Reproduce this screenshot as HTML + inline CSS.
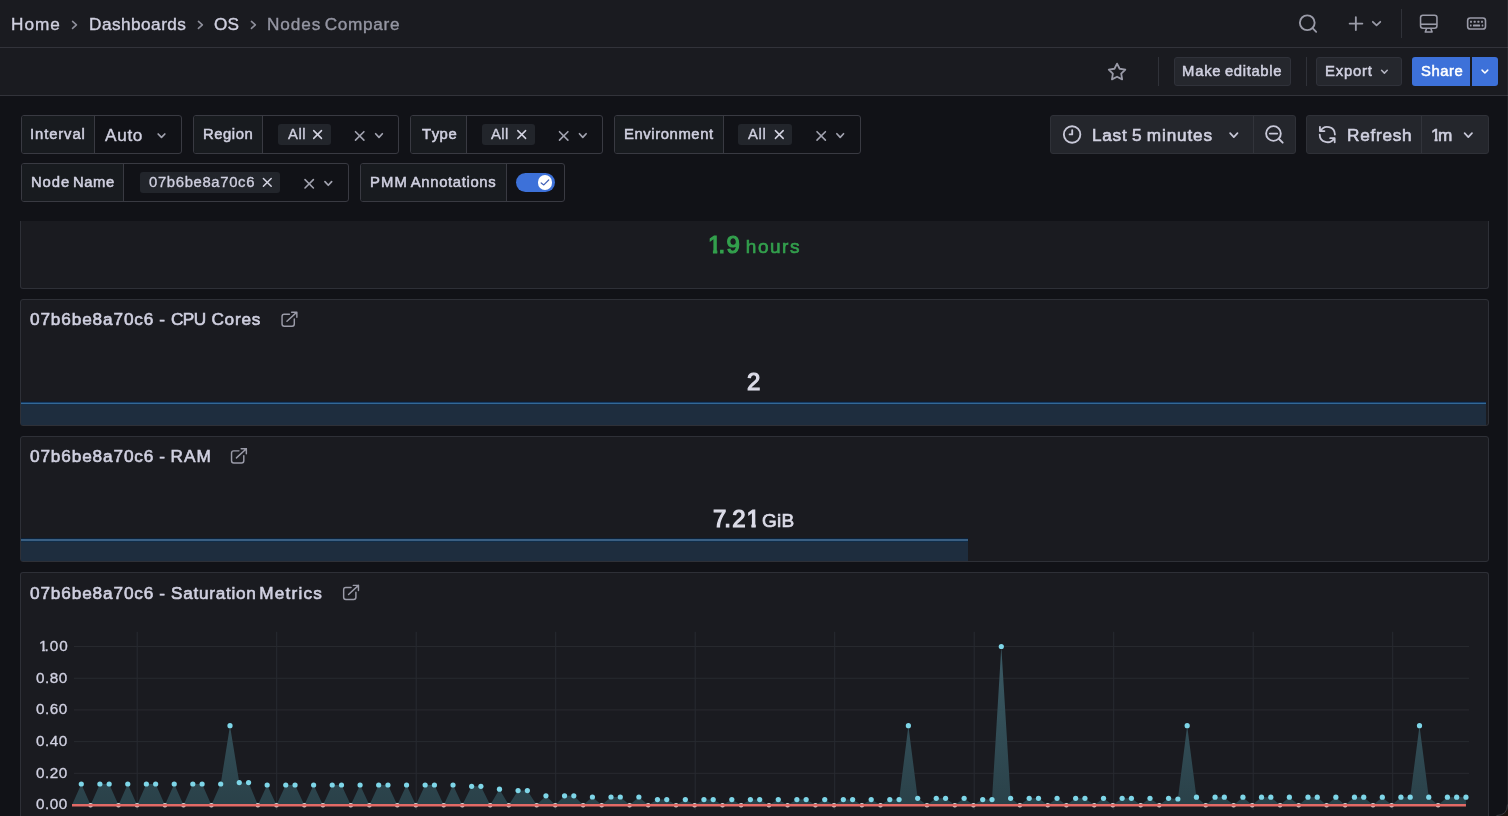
<!DOCTYPE html>
<html lang="en"><head><meta charset="utf-8"><title>Nodes Compare - OS - Dashboards - Grafana</title>
<style>
html,body{margin:0;padding:0;background:#111217;}
html{width:1508px;height:816px;overflow:hidden;}
body{width:1508px;height:816px;overflow:hidden;position:relative;font-family:"Liberation Sans", Arial, sans-serif;}
.a{position:absolute;box-sizing:border-box;}
.ic{position:absolute;left:0;top:0;overflow:visible;}
.t{position:absolute;white-space:pre;font-kerning:none;will-change:transform;}
.g{position:absolute;font-size:0;line-height:0;white-space:pre;will-change:transform;}
.w{display:inline-block;vertical-align:top;white-space:pre;font-kerning:none;}
.box{position:absolute;box-sizing:border-box;border:1px solid #393a42;border-radius:3px;background:#111217;}
.lab{position:absolute;box-sizing:border-box;top:0;left:0;bottom:0;background:#181b1f;border-right:1px solid #393a42;border-radius:2px 0 0 2px;}
.pill{position:absolute;box-sizing:border-box;background:#22252b;border-radius:3px;}
.panel{position:absolute;box-sizing:border-box;background:#1a1b20;border:1px solid #2e3037;border-radius:3px;overflow:hidden;}
.btn{position:absolute;box-sizing:border-box;border-radius:3px;}
.sep{position:absolute;width:1px;}
</style></head><body>
<header>
<div class="a" style="left:0;top:0;width:1508px;height:96px;background:#1a1b20"></div>
<div class="a" style="left:0;top:47px;width:1508px;height:1px;background:#32333a"></div>
<nav aria-label="Breadcrumbs">
<span class="t" style="left:11.29px;top:14px;font-size:17.20px;line-height:20px;color:#d0d0e0;-webkit-text-stroke:0.38px #d0d0e0;letter-spacing:0.964px;">Home</span><svg class="ic" width="1" height="1" aria-hidden="true"><path d="M72.55 21.45 L76.45 24.90 L72.55 28.35" fill="none" stroke="#8e8f9b" stroke-width="1.60" stroke-linecap="round" stroke-linejoin="round"/></svg>
<span class="t" style="left:88.59px;top:14px;font-size:17.20px;line-height:20px;color:#d0d0e0;-webkit-text-stroke:0.38px #d0d0e0;letter-spacing:0.476px;">Dashboards</span><svg class="ic" width="1" height="1" aria-hidden="true"><path d="M198.45 21.45 L202.35 24.90 L198.45 28.35" fill="none" stroke="#8e8f9b" stroke-width="1.60" stroke-linecap="round" stroke-linejoin="round"/></svg>
<span class="t" style="left:214.19px;top:14px;font-size:17.20px;line-height:20px;color:#d0d0e0;-webkit-text-stroke:0.38px #d0d0e0;letter-spacing:0.252px;">OS</span><svg class="ic" width="1" height="1" aria-hidden="true"><path d="M251.45 21.45 L255.35 24.90 L251.45 28.35" fill="none" stroke="#8e8f9b" stroke-width="1.60" stroke-linecap="round" stroke-linejoin="round"/></svg>
<span class="g" style="left:267.04px;top:14px"><span class="w" style="width:54.17px;height:20px;font-size:17.20px;line-height:20px;color:#9596a3;-webkit-text-stroke:0.38px #9596a3;letter-spacing:0.890px;">Nodes</span> <span class="w" style="width:75.46px;height:20px;margin-left:3.56px;font-size:17.20px;line-height:20px;color:#9596a3;-webkit-text-stroke:0.38px #9596a3;letter-spacing:0.674px;">Compare</span></span>
</nav>
<div class="topnav-actions">
<svg class="ic" width="1" height="1" aria-hidden="true"><circle cx="1307.25" cy="22.75" r="7.4" fill="none" stroke="#9a9ba8" stroke-width="1.85"/><path d="M1312.6 28.2 L1316.2 31.85" stroke="#9a9ba8" stroke-width="1.8" stroke-linecap="round"/></svg>
<svg class="ic" width="1" height="1" aria-hidden="true"><path d="M1349.65 23.6 H1362.35 M1355.85 17.25 V29.95" stroke="#9a9ba8" stroke-width="1.85" stroke-linecap="round"/><path d="M1372.80 21.80 L1376.55 25.30 L1380.30 21.80" fill="none" stroke="#9a9ba8" stroke-width="1.75" stroke-linecap="round" stroke-linejoin="round"/></svg>
<div class="sep" style="left:1401.2px;top:9.4px;height:28.4px;background:#303239"></div>
<svg class="ic" width="1" height="1" aria-hidden="true"><rect x="1420.55" y="15.15" width="16.4" height="13.1" rx="2.4" fill="none" stroke="#9a9ba8" stroke-width="1.55"/><path d="M1420.6 24.25 H1436.9" stroke="#9a9ba8" stroke-width="1.6"/><path d="M1426.4 29.0 L1425.3 31.95 H1432.1 L1431.0 29.0" fill="none" stroke="#9a9ba8" stroke-width="1.6" stroke-linejoin="round" stroke-linecap="round"/></svg>
<svg class="ic" width="1" height="1" aria-hidden="true"><rect x="1467.65" y="18.0" width="17.85" height="11.05" rx="2.6" fill="none" stroke="#9a9ba8" stroke-width="1.6"/><rect x="1470.05" y="20.85" width="1.9" height="1.9" rx="0.3" fill="#9a9ba8"/><rect x="1473.75" y="20.85" width="1.9" height="1.9" rx="0.3" fill="#9a9ba8"/><rect x="1477.45" y="20.85" width="1.9" height="1.9" rx="0.3" fill="#9a9ba8"/><rect x="1481.05" y="20.85" width="1.9" height="1.9" rx="0.3" fill="#9a9ba8"/><rect x="1469.95" y="24.6" width="1.6" height="1.8" rx="0.3" fill="#9a9ba8"/><rect x="1473.0" y="24.6" width="7.15" height="1.8" rx="0.5" fill="#9a9ba8"/><rect x="1481.7" y="24.6" width="1.6" height="1.8" rx="0.3" fill="#9a9ba8"/></svg>
</div>
</header>
<div class="dashboard-toolbar" role="toolbar">
<div class="a" style="left:0;top:95px;width:1508px;height:1px;background:#32333a"></div>
<svg class="ic" width="1" height="1" aria-hidden="true"><polygon points="1117.05,63.60 1119.64,68.74 1125.32,69.61 1121.23,73.66 1122.16,79.34 1117.05,76.70 1111.94,79.34 1112.87,73.66 1108.78,69.61 1114.46,68.74" fill="none" stroke="#9a9ba8" stroke-width="1.8" stroke-linejoin="round"/></svg>
<div class="sep" style="left:1158.0px;top:57.3px;height:28.4px;background:#303239"></div>
<div class="btn" style="left:1173.9px;top:57.3px;width:117.2px;height:28.4px;background:#25272d;border:1px solid #30323a"></div><span class="g" style="left:1182.38px;top:63px"><span class="w" style="width:39.41px;height:16px;font-size:14.83px;line-height:16px;color:#d0d0e0;-webkit-text-stroke:0.53px #d0d0e0;letter-spacing:0.786px;">Make</span> <span class="w" style="width:57.25px;height:16px;margin-left:3.48px;font-size:14.83px;line-height:16px;color:#d0d0e0;-webkit-text-stroke:0.53px #d0d0e0;letter-spacing:0.662px;">editable</span></span>
<div class="sep" style="left:1305.7px;top:57.3px;height:28.4px;background:#303239"></div>
<div class="btn" style="left:1316.3px;top:57.3px;width:85.5px;height:28.4px;background:#25272d;border:1px solid #30323a"></div><span class="t" style="left:1324.88px;top:63px;font-size:14.83px;line-height:16px;color:#d0d0e0;-webkit-text-stroke:0.53px #d0d0e0;letter-spacing:0.812px;">Export</span><svg class="ic" width="1" height="1" aria-hidden="true"><path d="M1381.55 70.25 L1384.40 73.15 L1387.25 70.25" fill="none" stroke="#b4b5c2" stroke-width="1.50" stroke-linecap="round" stroke-linejoin="round"/></svg>
<div class="btn" style="left:1411.9px;top:57.3px;width:58.6px;height:28.4px;background:#3d71d9;border-radius:3px 0 0 3px"></div><span class="t" style="left:1420.93px;top:63px;font-size:14.83px;line-height:16px;color:#ffffff;-webkit-text-stroke:0.53px #ffffff;letter-spacing:0.539px;">Share</span>
<div class="btn" style="left:1471.9px;top:57.3px;width:26.4px;height:28.4px;background:#3d71d9;border-radius:0 3px 3px 0"></div><svg class="ic" width="1" height="1" aria-hidden="true"><path d="M1482.05 70.15 L1484.90 73.05 L1487.75 70.15" fill="none" stroke="#ffffff" stroke-width="1.50" stroke-linecap="round" stroke-linejoin="round"/></svg>
</div>
<main>
<section class="dashboard-controls" aria-label="Dashboard controls">
<div class="variable"><div class="box" style="left:20.5px;top:115.3px;width:161.5px;height:38.4px"><div class="lab" style="width:73.5px"></div></div><span class="t" style="left:30.23px;top:126px;font-size:14.83px;line-height:16px;color:#d0d0e0;-webkit-text-stroke:0.53px #d0d0e0;letter-spacing:0.889px;">Interval</span><span class="t" style="left:105.27px;top:125px;font-size:17.20px;line-height:20px;color:#d0d0e0;-webkit-text-stroke:0.38px #d0d0e0;letter-spacing:0.690px;">Auto</span><svg class="ic" width="1" height="1" aria-hidden="true"><path d="M158.15 134.00 L161.50 137.40 L164.85 134.00" fill="none" stroke="#a2a3b0" stroke-width="1.70" stroke-linecap="round" stroke-linejoin="round"/></svg></div>
<div class="variable"><div class="box" style="left:193.2px;top:115.3px;width:205.8px;height:38.4px"><div class="lab" style="width:68.6px"></div></div><span class="t" style="left:202.98px;top:126px;font-size:14.83px;line-height:16px;color:#d0d0e0;-webkit-text-stroke:0.53px #d0d0e0;letter-spacing:0.556px;">Region</span><div class="pill" style="left:277.5px;top:124.2px;width:53.2px;height:20.8px"></div><span class="t" style="left:287.67px;top:126px;font-size:14.83px;line-height:16px;color:#d0d0e0;-webkit-text-stroke:0.33px #d0d0e0;letter-spacing:0.569px;">All</span><svg class="ic" width="1" height="1" aria-hidden="true"><path d="M313.70 130.60 L321.50 138.40 M321.50 130.60 L313.70 138.40" fill="none" stroke="#d4d4e2" stroke-width="1.50" stroke-linecap="round"/><path d="M355.50 131.70 L363.90 140.10 M363.90 131.70 L355.50 140.10" fill="none" stroke="#a2a3b0" stroke-width="1.60" stroke-linecap="round"/><path d="M375.65 133.75 L379.00 137.35 L382.35 133.75" fill="none" stroke="#a2a3b0" stroke-width="1.70" stroke-linecap="round" stroke-linejoin="round"/></svg></div>
<div class="variable"><div class="box" style="left:410.3px;top:115.3px;width:192.9px;height:38.4px"><div class="lab" style="width:56.2px"></div></div><span class="t" style="left:421.57px;top:126px;font-size:14.83px;line-height:16px;color:#d0d0e0;-webkit-text-stroke:0.53px #d0d0e0;letter-spacing:0.573px;">Type</span><div class="pill" style="left:481.6px;top:124.2px;width:53.3px;height:20.8px"></div><span class="t" style="left:491.47px;top:126px;font-size:14.83px;line-height:16px;color:#d0d0e0;-webkit-text-stroke:0.33px #d0d0e0;letter-spacing:0.419px;">All</span><svg class="ic" width="1" height="1" aria-hidden="true"><path d="M517.80 130.60 L525.60 138.40 M525.60 130.60 L517.80 138.40" fill="none" stroke="#d4d4e2" stroke-width="1.50" stroke-linecap="round"/><path d="M559.50 131.70 L567.90 140.10 M567.90 131.70 L559.50 140.10" fill="none" stroke="#a2a3b0" stroke-width="1.60" stroke-linecap="round"/><path d="M579.45 133.75 L582.80 137.35 L586.15 133.75" fill="none" stroke="#a2a3b0" stroke-width="1.70" stroke-linecap="round" stroke-linejoin="round"/></svg></div>
<div class="variable"><div class="box" style="left:614.4px;top:115.3px;width:246.6px;height:38.4px"><div class="lab" style="width:109.1px"></div></div><span class="t" style="left:623.88px;top:126px;font-size:14.83px;line-height:16px;color:#d0d0e0;-webkit-text-stroke:0.53px #d0d0e0;letter-spacing:0.586px;">Environment</span><div class="pill" style="left:738.3px;top:124.2px;width:53.9px;height:20.8px"></div><span class="t" style="left:748.47px;top:126px;font-size:14.83px;line-height:16px;color:#d0d0e0;-webkit-text-stroke:0.33px #d0d0e0;letter-spacing:0.619px;">All</span><svg class="ic" width="1" height="1" aria-hidden="true"><path d="M775.40 130.60 L783.20 138.40 M783.20 130.60 L775.40 138.40" fill="none" stroke="#d4d4e2" stroke-width="1.50" stroke-linecap="round"/><path d="M817.00 131.70 L825.40 140.10 M825.40 131.70 L817.00 140.10" fill="none" stroke="#a2a3b0" stroke-width="1.60" stroke-linecap="round"/><path d="M836.85 133.75 L840.20 137.35 L843.55 133.75" fill="none" stroke="#a2a3b0" stroke-width="1.70" stroke-linecap="round" stroke-linejoin="round"/></svg></div>
<div class="variable"><div class="box" style="left:20.5px;top:163.2px;width:328.2px;height:38.4px"><div class="lab" style="width:102.8px"></div></div><span class="g" style="left:30.93px;top:174px"><span class="w" style="width:39.08px;height:16px;font-size:14.83px;line-height:16px;color:#d0d0e0;-webkit-text-stroke:0.53px #d0d0e0;letter-spacing:0.906px;">Node</span> <span class="w" style="width:41.98px;height:16px;margin-left:2.82px;font-size:14.83px;line-height:16px;color:#d0d0e0;-webkit-text-stroke:0.53px #d0d0e0;letter-spacing:0.604px;">Name</span></span><div class="pill" style="left:139.7px;top:172.2px;width:140.1px;height:20.8px"></div><span class="t" style="left:148.82px;top:174px;font-size:14.83px;line-height:16px;color:#d0d0e0;-webkit-text-stroke:0.33px #d0d0e0;letter-spacing:0.662px;">07b6be8a70c6</span><svg class="ic" width="1" height="1" aria-hidden="true"><path d="M263.40 178.50 L271.20 186.30 M271.20 178.50 L263.40 186.30" fill="none" stroke="#d4d4e2" stroke-width="1.50" stroke-linecap="round"/><path d="M305.00 179.60 L313.40 188.00 M313.40 179.60 L305.00 188.00" fill="none" stroke="#a2a3b0" stroke-width="1.60" stroke-linecap="round"/><path d="M324.95 181.65 L328.30 185.25 L331.65 181.65" fill="none" stroke="#a2a3b0" stroke-width="1.70" stroke-linecap="round" stroke-linejoin="round"/></svg></div>
<div class="variable"><div class="box" style="left:360.2px;top:163.2px;width:204.8px;height:38.4px"><div class="lab" style="width:145.6px"></div></div><span class="g" style="left:370.28px;top:174px"><span class="w" style="width:37.87px;height:16px;font-size:14.83px;line-height:16px;color:#d0d0e0;-webkit-text-stroke:0.53px #d0d0e0;letter-spacing:1.090px;">PMM</span> <span class="w" style="width:85.52px;height:16px;margin-left:2.96px;font-size:14.83px;line-height:16px;color:#d0d0e0;-webkit-text-stroke:0.53px #d0d0e0;letter-spacing:0.653px;">Annotations</span></span><div class="a" style="left:516.1px;top:172.6px;width:38.8px;height:19.8px;border-radius:10px;background:#3d71d9"></div><div class="a" style="left:537.6px;top:175.0px;width:14.9px;height:14.9px;border-radius:8px;background:#ffffff"></div><svg class="ic" width="1" height="1" aria-hidden="true"><path d="M541.2 182.9 L543.8 184.9 L548.7 180.0" fill="none" stroke="#4463b8" stroke-width="1.25" stroke-linecap="round" stroke-linejoin="round"/></svg></div>
<div class="time-picker"><div class="btn" style="left:1050.3px;top:115.3px;width:245.7px;height:38.3px;background:#24262c;border:1px solid #2f3138"></div><div class="sep" style="left:1253.0px;top:116.3px;height:36.3px;background:#32343b"></div><svg class="ic" width="1" height="1" aria-hidden="true"><circle cx="1072.1" cy="134.5" r="8.25" fill="none" stroke="#c8c8d8" stroke-width="1.85"/><path d="M1072.2 130.2 V134.4 H1069.6" fill="none" stroke="#c8c8d8" stroke-width="1.85" stroke-linecap="round" stroke-linejoin="round"/></svg><span class="g" style="left:1091.74px;top:125px"><span class="w" style="width:35.41px;height:20px;font-size:17.20px;line-height:20px;color:#d0d0e0;-webkit-text-stroke:0.62px #d0d0e0;letter-spacing:0.725px;">Last</span> <span class="w" style="width:9.57px;height:20px;margin-left:4.68px;font-size:17.20px;line-height:20px;color:#d0d0e0;-webkit-text-stroke:0.62px #d0d0e0;">5</span> <span class="w" style="width:66.22px;height:20px;margin-left:5.16px;font-size:17.20px;line-height:20px;color:#d0d0e0;-webkit-text-stroke:0.62px #d0d0e0;letter-spacing:0.856px;">minutes</span></span><svg class="ic" width="1" height="1" aria-hidden="true"><path d="M1230.10 133.20 L1233.80 137.20 L1237.50 133.20" fill="none" stroke="#c8c8d8" stroke-width="1.70" stroke-linecap="round" stroke-linejoin="round"/></svg><svg class="ic" width="1" height="1" aria-hidden="true"><circle cx="1273.45" cy="133.5" r="7.35" fill="none" stroke="#c8c8d8" stroke-width="1.85"/><path d="M1269.8 133.6 H1277.2 M1279.0 139.0 L1282.7 142.7" fill="none" stroke="#c8c8d8" stroke-width="1.85" stroke-linecap="round"/></svg></div>
<div class="refresh-picker"><div class="btn" style="left:1305.6px;top:115.3px;width:183.0px;height:38.3px;background:#24262c;border:1px solid #2f3138"></div><div class="sep" style="left:1421.2px;top:116.3px;height:36.3px;background:#32343b"></div><svg class="ic" width="1" height="1" aria-hidden="true"><path d="M1320.53 131.15 A7.60 7.60 0 0 1 1334.90 134.60 M1334.07 138.05 A7.60 7.60 0 0 1 1319.70 134.60 M1319.93 126.85 L1319.93 131.05 L1324.43 131.05 M1334.67 142.35 L1334.67 138.15 L1330.17 138.15" fill="none" stroke="#c8c8d8" stroke-width="1.80" stroke-linecap="round" stroke-linejoin="round"/></svg><span class="t" style="left:1346.69px;top:125px;font-size:17.20px;line-height:20px;color:#d0d0e0;-webkit-text-stroke:0.62px #d0d0e0;letter-spacing:0.750px;">Refresh</span><span class="g" style="left:1431.45px;top:125px"><span class="w" style="width:9.57px;height:20px;font-size:17.20px;line-height:20px;color:#d0d0e0;-webkit-text-stroke:0.62px #d0d0e0;clip-path:polygon(-2px -2px,40px -2px,40px 13.71px,6.66px 13.71px,6.66px 40px,3.52px 40px,3.52px 13.71px,-2px 13.71px);">1</span><span class="w" style="width:14.33px;height:20px;margin-left:-2.56px;font-size:17.20px;line-height:20px;color:#d0d0e0;-webkit-text-stroke:0.62px #d0d0e0;">m</span></span><svg class="ic" width="1" height="1" aria-hidden="true"><path d="M1464.60 133.20 L1468.30 137.20 L1472.00 133.20" fill="none" stroke="#c8c8d8" stroke-width="1.70" stroke-linecap="round" stroke-linejoin="round"/></svg></div>
</section>
<section class="dash-panel"><div class="panel" style="left:19.5px;top:220.7px;width:1469.0px;height:68.4px;border-top:none;border-radius:0 0 3px 3px"></div><span class="g" style="left:708.24px;top:231px"><span class="w" style="width:13.35px;height:27px;font-size:24.00px;line-height:27px;color:#33a04d;-webkit-text-stroke:1.20px #33a04d;clip-path:polygon(-2px -2px,40px -2px,40px 18.91px,9.26px 18.91px,9.26px 40px,4.94px 40px,4.94px 18.91px,-2px 18.91px);">1</span><span class="w" style="width:6.67px;height:27px;margin-left:-2.93px;font-size:24.00px;line-height:27px;color:#33a04d;-webkit-text-stroke:1.20px #33a04d;">.</span><span class="w" style="width:13.35px;height:27px;margin-left:1.40px;font-size:24.00px;line-height:27px;color:#33a04d;-webkit-text-stroke:1.20px #33a04d;">9</span> <span class="w" style="width:55.12px;height:21px;margin-left:6.00px;margin-top:5px;font-size:19.00px;line-height:21px;color:#33a04d;-webkit-text-stroke:0.68px #33a04d;letter-spacing:1.519px;">hours</span></span></section>
<section class="dash-panel"><div class="panel" style="left:19.5px;top:299.0px;width:1469.0px;height:127.4px;"></div><h2 style="margin:0;font:inherit"><span class="g" style="left:30.18px;top:309px"><span class="w" style="width:124.30px;height:20px;font-size:17.20px;line-height:20px;color:#d0d0e0;-webkit-text-stroke:0.62px #d0d0e0;letter-spacing:0.872px;">07b6be8a70c6</span> <span class="w" style="width:5.73px;height:20px;margin-left:5.06px;font-size:17.20px;line-height:20px;color:#d0d0e0;-webkit-text-stroke:0.62px #d0d0e0;">-</span> <span class="w" style="width:34.42px;height:20px;margin-left:6.01px;font-size:17.20px;line-height:20px;color:#d0d0e0;-webkit-text-stroke:0.62px #d0d0e0;letter-spacing:-0.633px;">CPU</span> <span class="w" style="width:49.90px;height:20px;margin-left:5.93px;font-size:17.20px;line-height:20px;color:#d0d0e0;-webkit-text-stroke:0.62px #d0d0e0;letter-spacing:0.803px;">Cores</span></span></h2><svg class="ic" width="1" height="1" aria-hidden="true"><path d="M289.45 314.25 L284.25 314.25 Q282.05 314.25 282.05 316.45 L282.05 324.10 Q282.05 326.30 284.25 326.30 L292.10 326.30 Q294.30 326.30 294.30 324.10 L294.30 319.00 M286.95 321.30 L296.85 312.15 M291.65 312.15 L296.85 312.15 L296.85 317.20" fill="none" stroke="#9a9ba8" stroke-width="1.45" stroke-linecap="round" stroke-linejoin="round"/></svg><span class="t" style="left:747.33px;top:368px;font-size:24.00px;line-height:27px;color:#dcdce8;-webkit-text-stroke:1.20px #dcdce8;">2</span><div class="a" style="left:21px;top:401px;width:1465px;height:24px;background:linear-gradient(to bottom,#141b29 0px,#141b29 1px,#163d66 1px,#163d66 2px,#346896 2px,#346896 3px,#172d45 3px,#172d45 4px,#1e2d3e 4px)"></div></section>
<section class="dash-panel"><div class="panel" style="left:19.5px;top:435.6px;width:1469.0px;height:126.4px;"></div><h2 style="margin:0;font:inherit"><span class="g" style="left:30.18px;top:446px"><span class="w" style="width:124.30px;height:20px;font-size:17.20px;line-height:20px;color:#d0d0e0;-webkit-text-stroke:0.62px #d0d0e0;letter-spacing:0.872px;">07b6be8a70c6</span> <span class="w" style="width:5.73px;height:20px;margin-left:5.06px;font-size:17.20px;line-height:20px;color:#d0d0e0;-webkit-text-stroke:0.62px #d0d0e0;">-</span> <span class="w" style="width:41.30px;height:20px;margin-left:5.47px;font-size:17.20px;line-height:20px;color:#d0d0e0;-webkit-text-stroke:0.62px #d0d0e0;letter-spacing:1.024px;">RAM</span></span></h2><svg class="ic" width="1" height="1" aria-hidden="true"><path d="M238.95 450.85 L233.75 450.85 Q231.55 450.85 231.55 453.05 L231.55 460.70 Q231.55 462.90 233.75 462.90 L241.60 462.90 Q243.80 462.90 243.80 460.70 L243.80 455.60 M236.45 457.90 L246.35 448.75 M241.15 448.75 L246.35 448.75 L246.35 453.80" fill="none" stroke="#9a9ba8" stroke-width="1.45" stroke-linecap="round" stroke-linejoin="round"/></svg><span class="g" style="left:713.21px;top:505px"><span class="w" style="width:13.35px;height:27px;font-size:24.00px;line-height:27px;color:#dcdce8;-webkit-text-stroke:1.20px #dcdce8;">7</span><span class="w" style="width:6.67px;height:27px;margin-left:-2.10px;font-size:24.00px;line-height:27px;color:#dcdce8;-webkit-text-stroke:1.20px #dcdce8;">.</span><span class="w" style="width:13.35px;height:27px;margin-left:1.39px;font-size:24.00px;line-height:27px;color:#dcdce8;-webkit-text-stroke:1.20px #dcdce8;">2</span><span class="w" style="width:13.35px;height:27px;margin-left:0.87px;font-size:24.00px;line-height:27px;color:#dcdce8;-webkit-text-stroke:1.20px #dcdce8;clip-path:polygon(-2px -2px,40px -2px,40px 18.91px,9.26px 18.91px,9.26px 40px,4.94px 40px,4.94px 18.91px,-2px 18.91px);">1</span> <span class="w" style="width:32.55px;height:21px;margin-left:2.15px;margin-top:5px;font-size:19.00px;line-height:21px;color:#dcdce8;-webkit-text-stroke:0.68px #dcdce8;letter-spacing:0.292px;">GiB</span></span><div class="a" style="left:21px;top:538px;width:947px;height:23px;background:linear-gradient(to bottom,#0b2139 0px,#0b2139 1px,#3a5f82 1px,#3a5f82 2px,#3a5f82 2px,#3a5f82 3px,#102d49 3px,#102d49 4px,#1e2d3e 4px)"></div></section>
<section class="dash-panel"><div class="panel" style="left:19.5px;top:572.4px;width:1469.0px;height:243.6px;border-bottom:none;border-radius:3px 3px 0 0"></div><h2 style="margin:0;font:inherit"><span class="g" style="left:30.18px;top:583px"><span class="w" style="width:124.30px;height:20px;font-size:17.20px;line-height:20px;color:#d0d0e0;-webkit-text-stroke:0.62px #d0d0e0;letter-spacing:0.872px;">07b6be8a70c6</span> <span class="w" style="width:5.73px;height:20px;margin-left:5.06px;font-size:17.20px;line-height:20px;color:#d0d0e0;-webkit-text-stroke:0.62px #d0d0e0;">-</span> <span class="w" style="width:85.51px;height:20px;margin-left:5.95px;font-size:17.20px;line-height:20px;color:#d0d0e0;-webkit-text-stroke:0.62px #d0d0e0;letter-spacing:0.710px;">Saturation</span> <span class="w" style="width:63.72px;height:20px;margin-left:2.86px;font-size:17.20px;line-height:20px;color:#d0d0e0;-webkit-text-stroke:0.62px #d0d0e0;letter-spacing:1.185px;">Metrics</span></span></h2><svg class="ic" width="1" height="1" aria-hidden="true"><path d="M351.05 587.45 L345.85 587.45 Q343.65 587.45 343.65 589.65 L343.65 597.30 Q343.65 599.50 345.85 599.50 L353.70 599.50 Q355.90 599.50 355.90 597.30 L355.90 592.20 M348.55 594.50 L358.45 585.35 M353.25 585.35 L358.45 585.35 L358.45 590.40" fill="none" stroke="#9a9ba8" stroke-width="1.45" stroke-linecap="round" stroke-linejoin="round"/></svg>
<svg class="a" style="left:0;top:0" width="1508" height="816" viewBox="0 0 1508 816"><path d="M74 773.31 H1469" stroke="#282a30" stroke-width="1"/><path d="M74 741.62 H1469" stroke="#282a30" stroke-width="1"/><path d="M74 709.93 H1469" stroke="#282a30" stroke-width="1"/><path d="M74 678.24 H1469" stroke="#282a30" stroke-width="1"/><path d="M74 646.55 H1469" stroke="#282a30" stroke-width="1"/><path d="M137.20 631.8 V810" stroke="#282a30" stroke-width="1"/><path d="M276.70 631.8 V810" stroke="#282a30" stroke-width="1"/><path d="M416.20 631.8 V810" stroke="#282a30" stroke-width="1"/><path d="M555.70 631.8 V810" stroke="#282a30" stroke-width="1"/><path d="M695.20 631.8 V810" stroke="#282a30" stroke-width="1"/><path d="M834.70 631.8 V810" stroke="#282a30" stroke-width="1"/><path d="M974.20 631.8 V810" stroke="#282a30" stroke-width="1"/><path d="M1113.70 631.8 V810" stroke="#282a30" stroke-width="1"/><path d="M1253.20 631.8 V810" stroke="#282a30" stroke-width="1"/><path d="M1392.70 631.8 V810" stroke="#282a30" stroke-width="1"/><defs><linearGradient id="fg" gradientUnits="userSpaceOnUse" x1="0" y1="646" x2="0" y2="805"><stop offset="0" stop-color="#3b5a64"/><stop offset="1" stop-color="#2a4149"/></linearGradient></defs><path d="M72.00 805.00 L81.30 784.00 L90.59 805.00 L99.89 784.00 L109.18 784.00 L118.47 805.00 L127.76 784.00 L137.06 805.00 L146.35 784.00 L155.64 784.00 L164.94 805.00 L174.23 784.00 L183.52 805.00 L192.82 784.00 L202.11 784.00 L211.40 805.00 L220.69 784.00 L229.99 725.70 L239.28 782.60 L248.57 782.60 L257.87 805.00 L267.16 785.00 L276.45 805.00 L285.75 785.00 L295.04 785.00 L304.33 805.00 L313.62 785.00 L322.92 805.00 L332.21 785.00 L341.50 785.00 L350.80 805.00 L360.09 785.00 L369.38 805.00 L378.68 785.00 L387.97 785.00 L397.26 805.00 L406.56 785.00 L415.85 805.00 L425.14 785.00 L434.43 785.00 L443.73 805.00 L453.02 785.00 L462.31 805.00 L471.61 786.30 L480.90 786.30 L490.19 805.00 L499.48 789.20 L508.78 805.00 L518.07 790.60 L527.36 790.60 L536.66 805.00 L545.95 795.80 L555.24 805.00 L564.54 795.80 L573.83 795.80 L583.12 805.00 L592.41 797.00 L601.71 805.00 L611.00 797.00 L620.29 797.00 L629.59 805.00 L638.88 797.00 L648.17 805.00 L657.47 799.60 L666.76 799.60 L676.05 805.00 L685.34 799.60 L694.64 805.00 L703.93 799.60 L713.22 799.60 L722.52 805.00 L731.81 799.60 L741.10 805.00 L750.40 799.60 L759.69 799.60 L768.98 805.00 L778.27 799.60 L787.57 805.00 L796.86 799.60 L806.15 799.60 L815.45 805.00 L824.74 799.60 L834.03 805.00 L843.33 799.60 L852.62 799.60 L861.91 805.00 L871.20 799.60 L880.50 805.00 L889.79 799.60 L899.08 799.60 L908.38 725.70 L917.67 798.30 L926.96 805.00 L936.26 798.30 L945.55 798.30 L954.84 805.00 L964.13 798.30 L973.43 805.00 L982.72 799.60 L992.01 799.60 L1001.31 646.50 L1010.60 798.30 L1019.89 805.00 L1029.19 798.30 L1038.48 798.30 L1047.77 805.00 L1057.06 798.30 L1066.36 805.00 L1075.65 798.30 L1084.94 798.30 L1094.24 805.00 L1103.53 798.30 L1112.82 805.00 L1122.12 798.30 L1131.41 798.30 L1140.70 805.00 L1149.99 798.30 L1159.29 805.00 L1168.58 798.30 L1177.87 799.00 L1187.17 725.70 L1196.46 797.20 L1205.75 805.00 L1215.05 797.20 L1224.34 797.20 L1233.63 805.00 L1242.92 797.20 L1252.22 805.00 L1261.51 797.20 L1270.80 797.20 L1280.10 805.00 L1289.39 797.20 L1298.68 805.00 L1307.98 797.20 L1317.27 797.20 L1326.56 805.00 L1335.85 797.20 L1345.15 805.00 L1354.44 797.20 L1363.73 797.20 L1373.03 805.00 L1382.32 797.20 L1391.61 805.00 L1400.91 797.20 L1410.20 797.20 L1419.49 725.70 L1428.78 797.20 L1438.08 805.00 L1447.37 797.20 L1456.66 797.20 L1465.96 797.20 L1465.96 805.00 Z" fill="url(#fg)"/><circle cx="90.59" cy="805.20" r="2.3" fill="#d9dcde"/><circle cx="118.47" cy="805.20" r="2.3" fill="#d9dcde"/><circle cx="137.06" cy="805.20" r="2.3" fill="#d9dcde"/><circle cx="164.94" cy="805.20" r="2.3" fill="#d9dcde"/><circle cx="183.52" cy="805.20" r="2.3" fill="#d9dcde"/><circle cx="211.40" cy="805.20" r="2.3" fill="#d9dcde"/><circle cx="257.87" cy="805.20" r="2.3" fill="#d9dcde"/><circle cx="276.45" cy="805.20" r="2.3" fill="#d9dcde"/><circle cx="304.33" cy="805.20" r="2.3" fill="#d9dcde"/><circle cx="322.92" cy="805.20" r="2.3" fill="#d9dcde"/><circle cx="350.80" cy="805.20" r="2.3" fill="#d9dcde"/><circle cx="369.38" cy="805.20" r="2.3" fill="#d9dcde"/><circle cx="397.26" cy="805.20" r="2.3" fill="#d9dcde"/><circle cx="415.85" cy="805.20" r="2.3" fill="#d9dcde"/><circle cx="443.73" cy="805.20" r="2.3" fill="#d9dcde"/><circle cx="462.31" cy="805.20" r="2.3" fill="#d9dcde"/><circle cx="490.19" cy="805.20" r="2.3" fill="#d9dcde"/><circle cx="508.78" cy="805.20" r="2.3" fill="#d9dcde"/><circle cx="536.66" cy="805.20" r="2.3" fill="#d9dcde"/><circle cx="555.24" cy="805.20" r="2.3" fill="#d9dcde"/><circle cx="583.12" cy="805.20" r="2.3" fill="#d9dcde"/><circle cx="601.71" cy="805.20" r="2.3" fill="#d9dcde"/><circle cx="629.59" cy="805.20" r="2.3" fill="#d9dcde"/><circle cx="648.17" cy="805.20" r="2.3" fill="#d9dcde"/><circle cx="676.05" cy="805.20" r="2.3" fill="#d9dcde"/><circle cx="694.64" cy="805.20" r="2.3" fill="#d9dcde"/><circle cx="722.52" cy="805.20" r="2.3" fill="#d9dcde"/><circle cx="741.10" cy="805.20" r="2.3" fill="#d9dcde"/><circle cx="768.98" cy="805.20" r="2.3" fill="#d9dcde"/><circle cx="787.57" cy="805.20" r="2.3" fill="#d9dcde"/><circle cx="815.45" cy="805.20" r="2.3" fill="#d9dcde"/><circle cx="834.03" cy="805.20" r="2.3" fill="#d9dcde"/><circle cx="861.91" cy="805.20" r="2.3" fill="#d9dcde"/><circle cx="880.50" cy="805.20" r="2.3" fill="#d9dcde"/><circle cx="926.96" cy="805.20" r="2.3" fill="#d9dcde"/><circle cx="954.84" cy="805.20" r="2.3" fill="#d9dcde"/><circle cx="973.43" cy="805.20" r="2.3" fill="#d9dcde"/><circle cx="1019.89" cy="805.20" r="2.3" fill="#d9dcde"/><circle cx="1047.77" cy="805.20" r="2.3" fill="#d9dcde"/><circle cx="1066.36" cy="805.20" r="2.3" fill="#d9dcde"/><circle cx="1094.24" cy="805.20" r="2.3" fill="#d9dcde"/><circle cx="1112.82" cy="805.20" r="2.3" fill="#d9dcde"/><circle cx="1140.70" cy="805.20" r="2.3" fill="#d9dcde"/><circle cx="1159.29" cy="805.20" r="2.3" fill="#d9dcde"/><circle cx="1205.75" cy="805.20" r="2.3" fill="#d9dcde"/><circle cx="1233.63" cy="805.20" r="2.3" fill="#d9dcde"/><circle cx="1252.22" cy="805.20" r="2.3" fill="#d9dcde"/><circle cx="1280.10" cy="805.20" r="2.3" fill="#d9dcde"/><circle cx="1298.68" cy="805.20" r="2.3" fill="#d9dcde"/><circle cx="1326.56" cy="805.20" r="2.3" fill="#d9dcde"/><circle cx="1345.15" cy="805.20" r="2.3" fill="#d9dcde"/><circle cx="1373.03" cy="805.20" r="2.3" fill="#d9dcde"/><circle cx="1391.61" cy="805.20" r="2.3" fill="#d9dcde"/><circle cx="1438.08" cy="805.20" r="2.3" fill="#d9dcde"/><path d="M72 805.20 H1465.96" stroke="#e26a66" stroke-width="2.5"/><circle cx="81.30" cy="784.00" r="2.6" fill="#7ed6e8"/><circle cx="99.89" cy="784.00" r="2.6" fill="#7ed6e8"/><circle cx="109.18" cy="784.00" r="2.6" fill="#7ed6e8"/><circle cx="127.76" cy="784.00" r="2.6" fill="#7ed6e8"/><circle cx="146.35" cy="784.00" r="2.6" fill="#7ed6e8"/><circle cx="155.64" cy="784.00" r="2.6" fill="#7ed6e8"/><circle cx="174.23" cy="784.00" r="2.6" fill="#7ed6e8"/><circle cx="192.82" cy="784.00" r="2.6" fill="#7ed6e8"/><circle cx="202.11" cy="784.00" r="2.6" fill="#7ed6e8"/><circle cx="220.69" cy="784.00" r="2.6" fill="#7ed6e8"/><circle cx="229.99" cy="725.70" r="2.6" fill="#7ed6e8"/><circle cx="239.28" cy="782.60" r="2.6" fill="#7ed6e8"/><circle cx="248.57" cy="782.60" r="2.6" fill="#7ed6e8"/><circle cx="267.16" cy="785.00" r="2.6" fill="#7ed6e8"/><circle cx="285.75" cy="785.00" r="2.6" fill="#7ed6e8"/><circle cx="295.04" cy="785.00" r="2.6" fill="#7ed6e8"/><circle cx="313.62" cy="785.00" r="2.6" fill="#7ed6e8"/><circle cx="332.21" cy="785.00" r="2.6" fill="#7ed6e8"/><circle cx="341.50" cy="785.00" r="2.6" fill="#7ed6e8"/><circle cx="360.09" cy="785.00" r="2.6" fill="#7ed6e8"/><circle cx="378.68" cy="785.00" r="2.6" fill="#7ed6e8"/><circle cx="387.97" cy="785.00" r="2.6" fill="#7ed6e8"/><circle cx="406.56" cy="785.00" r="2.6" fill="#7ed6e8"/><circle cx="425.14" cy="785.00" r="2.6" fill="#7ed6e8"/><circle cx="434.43" cy="785.00" r="2.6" fill="#7ed6e8"/><circle cx="453.02" cy="785.00" r="2.6" fill="#7ed6e8"/><circle cx="471.61" cy="786.30" r="2.6" fill="#7ed6e8"/><circle cx="480.90" cy="786.30" r="2.6" fill="#7ed6e8"/><circle cx="499.48" cy="789.20" r="2.6" fill="#7ed6e8"/><circle cx="518.07" cy="790.60" r="2.6" fill="#7ed6e8"/><circle cx="527.36" cy="790.60" r="2.6" fill="#7ed6e8"/><circle cx="545.95" cy="795.80" r="2.6" fill="#7ed6e8"/><circle cx="564.54" cy="795.80" r="2.6" fill="#7ed6e8"/><circle cx="573.83" cy="795.80" r="2.6" fill="#7ed6e8"/><circle cx="592.41" cy="797.00" r="2.6" fill="#7ed6e8"/><circle cx="611.00" cy="797.00" r="2.6" fill="#7ed6e8"/><circle cx="620.29" cy="797.00" r="2.6" fill="#7ed6e8"/><circle cx="638.88" cy="797.00" r="2.6" fill="#7ed6e8"/><circle cx="657.47" cy="799.60" r="2.6" fill="#7ed6e8"/><circle cx="666.76" cy="799.60" r="2.6" fill="#7ed6e8"/><circle cx="685.34" cy="799.60" r="2.6" fill="#7ed6e8"/><circle cx="703.93" cy="799.60" r="2.6" fill="#7ed6e8"/><circle cx="713.22" cy="799.60" r="2.6" fill="#7ed6e8"/><circle cx="731.81" cy="799.60" r="2.6" fill="#7ed6e8"/><circle cx="750.40" cy="799.60" r="2.6" fill="#7ed6e8"/><circle cx="759.69" cy="799.60" r="2.6" fill="#7ed6e8"/><circle cx="778.27" cy="799.60" r="2.6" fill="#7ed6e8"/><circle cx="796.86" cy="799.60" r="2.6" fill="#7ed6e8"/><circle cx="806.15" cy="799.60" r="2.6" fill="#7ed6e8"/><circle cx="824.74" cy="799.60" r="2.6" fill="#7ed6e8"/><circle cx="843.33" cy="799.60" r="2.6" fill="#7ed6e8"/><circle cx="852.62" cy="799.60" r="2.6" fill="#7ed6e8"/><circle cx="871.20" cy="799.60" r="2.6" fill="#7ed6e8"/><circle cx="889.79" cy="799.60" r="2.6" fill="#7ed6e8"/><circle cx="899.08" cy="799.60" r="2.6" fill="#7ed6e8"/><circle cx="908.38" cy="725.70" r="2.6" fill="#7ed6e8"/><circle cx="917.67" cy="798.30" r="2.6" fill="#7ed6e8"/><circle cx="936.26" cy="798.30" r="2.6" fill="#7ed6e8"/><circle cx="945.55" cy="798.30" r="2.6" fill="#7ed6e8"/><circle cx="964.13" cy="798.30" r="2.6" fill="#7ed6e8"/><circle cx="982.72" cy="799.60" r="2.6" fill="#7ed6e8"/><circle cx="992.01" cy="799.60" r="2.6" fill="#7ed6e8"/><circle cx="1001.31" cy="646.50" r="2.6" fill="#7ed6e8"/><circle cx="1010.60" cy="798.30" r="2.6" fill="#7ed6e8"/><circle cx="1029.19" cy="798.30" r="2.6" fill="#7ed6e8"/><circle cx="1038.48" cy="798.30" r="2.6" fill="#7ed6e8"/><circle cx="1057.06" cy="798.30" r="2.6" fill="#7ed6e8"/><circle cx="1075.65" cy="798.30" r="2.6" fill="#7ed6e8"/><circle cx="1084.94" cy="798.30" r="2.6" fill="#7ed6e8"/><circle cx="1103.53" cy="798.30" r="2.6" fill="#7ed6e8"/><circle cx="1122.12" cy="798.30" r="2.6" fill="#7ed6e8"/><circle cx="1131.41" cy="798.30" r="2.6" fill="#7ed6e8"/><circle cx="1149.99" cy="798.30" r="2.6" fill="#7ed6e8"/><circle cx="1168.58" cy="798.30" r="2.6" fill="#7ed6e8"/><circle cx="1177.87" cy="799.00" r="2.6" fill="#7ed6e8"/><circle cx="1187.17" cy="725.70" r="2.6" fill="#7ed6e8"/><circle cx="1196.46" cy="797.20" r="2.6" fill="#7ed6e8"/><circle cx="1215.05" cy="797.20" r="2.6" fill="#7ed6e8"/><circle cx="1224.34" cy="797.20" r="2.6" fill="#7ed6e8"/><circle cx="1242.92" cy="797.20" r="2.6" fill="#7ed6e8"/><circle cx="1261.51" cy="797.20" r="2.6" fill="#7ed6e8"/><circle cx="1270.80" cy="797.20" r="2.6" fill="#7ed6e8"/><circle cx="1289.39" cy="797.20" r="2.6" fill="#7ed6e8"/><circle cx="1307.98" cy="797.20" r="2.6" fill="#7ed6e8"/><circle cx="1317.27" cy="797.20" r="2.6" fill="#7ed6e8"/><circle cx="1335.85" cy="797.20" r="2.6" fill="#7ed6e8"/><circle cx="1354.44" cy="797.20" r="2.6" fill="#7ed6e8"/><circle cx="1363.73" cy="797.20" r="2.6" fill="#7ed6e8"/><circle cx="1382.32" cy="797.20" r="2.6" fill="#7ed6e8"/><circle cx="1400.91" cy="797.20" r="2.6" fill="#7ed6e8"/><circle cx="1410.20" cy="797.20" r="2.6" fill="#7ed6e8"/><circle cx="1419.49" cy="725.70" r="2.6" fill="#7ed6e8"/><circle cx="1428.78" cy="797.20" r="2.6" fill="#7ed6e8"/><circle cx="1447.37" cy="797.20" r="2.6" fill="#7ed6e8"/><circle cx="1456.66" cy="797.20" r="2.6" fill="#7ed6e8"/><circle cx="1465.96" cy="797.20" r="2.6" fill="#7ed6e8"/></svg>
<span class="g" style="left:38.62px;top:637px"><span class="w" style="width:8.48px;height:17px;font-size:15.24px;line-height:17px;color:#d0d0e0;-webkit-text-stroke:0.34px #d0d0e0;clip-path:polygon(-2px -2px,40px -2px,40px 11.99px,5.85px 11.99px,5.85px 40px,3.17px 40px,3.17px 11.99px,-2px 11.99px);">1</span><span class="w" style="width:24.04px;height:17px;margin-left:-2.89px;font-size:15.24px;line-height:17px;color:#d0d0e0;-webkit-text-stroke:0.34px #d0d0e0;letter-spacing:0.948px;">.00</span></span><span class="t" style="left:36.00px;top:669px;font-size:15.24px;line-height:17px;color:#d0d0e0;-webkit-text-stroke:0.34px #d0d0e0;letter-spacing:0.541px;">0.80</span><span class="t" style="left:36.00px;top:700px;font-size:15.24px;line-height:17px;color:#d0d0e0;-webkit-text-stroke:0.34px #d0d0e0;letter-spacing:0.541px;">0.60</span><span class="t" style="left:36.00px;top:732px;font-size:15.24px;line-height:17px;color:#d0d0e0;-webkit-text-stroke:0.34px #d0d0e0;letter-spacing:0.541px;">0.40</span><span class="t" style="left:36.00px;top:764px;font-size:15.24px;line-height:17px;color:#d0d0e0;-webkit-text-stroke:0.34px #d0d0e0;letter-spacing:0.541px;">0.20</span><span class="t" style="left:36.00px;top:795px;font-size:15.24px;line-height:17px;color:#d0d0e0;-webkit-text-stroke:0.34px #d0d0e0;letter-spacing:0.541px;">0.00</span>
</section>
</main>
<div class="a" style="right:0;top:0;width:1px;height:816px;background:rgba(255,255,255,0.055)"></div>
<svg class="a" style="right:0;bottom:0" width="12" height="12" viewBox="0 0 12 12" aria-hidden="true"><path d="M12 0 V12 H0 Q12 12 12 0 Z" fill="#1c1410"/><path d="M0.5 11.5 Q11.5 11.5 11.5 0.5" fill="none" stroke="#3a3b40" stroke-width="1"/></svg>
</body></html>
